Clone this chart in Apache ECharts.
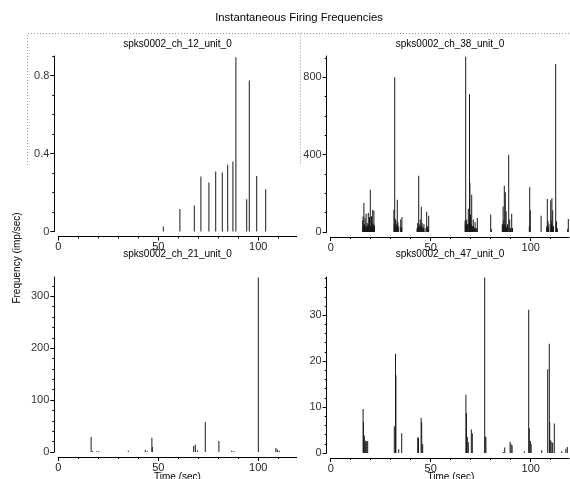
<!DOCTYPE html>
<html>
<head>
<meta charset="utf-8">
<script src="https://cdn.jsdelivr.net/npm/echarts@6/dist/echarts.min.js"></script>
<style>
html,body{margin:0;padding:0;background:#fff;}
#chart{width:570px;height:479px;}
</style>
</head>
<body>
<div id="chart"></div>
<script>
// ---- data (time in sec, frequency in imp/sec) ----
const titles = ["spks0002_ch_12_unit_0", "spks0002_ch_38_unit_0", "spks0002_ch_21_unit_0", "spks0002_ch_47_unit_0"];

const ch12Time = [52.5, 60.8, 68.0, 71.3, 75.3, 78.7, 82.0, 84.7, 87.3, 88.8, 94.2, 95.5, 99.2, 103.7];
const ch12Freq = [0.026, 0.116, 0.133, 0.282, 0.251, 0.308, 0.303, 0.342, 0.359, 0.894, 0.166, 0.774, 0.284, 0.217];

// ch38: prominent spikes
const ch38Time = [16.0, 16.2, 16.6, 16.9, 17.2, 17.5, 17.7, 18.0, 18.2, 18.5, 18.8, 19.1, 19.4, 19.8, 20.1, 20.4, 20.7, 21.0, 21.3, 21.6, 21.9,
  31.6, 32.0, 32.3, 32.6, 33.0, 33.3, 33.6, 34.0, 35.0, 35.3, 35.6,
  43.2, 43.5, 44.0, 44.4, 44.8, 45.3, 45.7, 46.2, 46.6, 47.2, 48.0, 48.4, 49.0,
  67.2, 67.5, 68.0, 68.4, 68.8, 69.4, 69.6, 69.9, 70.2, 70.5, 70.9, 71.3, 71.7, 72.2, 72.7, 73.3,
  80.0, 80.3,
  85.8, 86.2, 86.5, 86.8, 87.1, 87.3, 87.7, 88.0, 88.4, 89.0, 89.5, 89.9, 90.5, 90.9,
  99.3, 99.5, 99.8, 105.2,
  108.0, 108.3, 108.7, 109.1, 110.0, 110.3, 110.6, 111.0, 111.4, 112.5, 112.9, 113.3,
  118.5, 118.8];
const ch38Freq = [60, 81, 150, 40, 72, 30, 95, 25, 46, 35, 98, 40, 77, 218, 30, 81, 45, 115, 40, 110, 35,
  115, 800, 69, 60, 40, 167, 50, 30, 64, 25, 77,
  20, 46, 291, 30, 64, 130, 46, 26, 40, 20, 105, 30, 84,
  60, 906, 64, 40, 120, 712, 253, 90, 40, 193, 30, 64, 25, 50, 20, 72,
  90, 15,
  40, 132, 60, 239, 30, 205, 107, 25, 40, 399, 64, 20, 95, 21,
  30, 232, 112, 84,
  30, 170, 55, 40, 163, 60, 175, 112, 30, 868, 55, 20,
  15, 67];
// ch38: dense low spikes at the base of each burst
const ch38LowTime = [16.1, 16.4, 16.7, 17.0, 17.35, 17.85, 18.35, 18.65, 18.95, 19.25, 19.6, 19.95, 20.25, 20.55, 20.85, 21.15, 21.45, 21.75,
  31.8, 32.15, 32.45, 32.8, 33.15, 33.45, 35.15, 35.45,
  43.35, 43.75, 44.2, 44.6, 45.0, 45.5, 45.9, 46.4, 48.2, 48.7,
  67.35, 67.65, 67.85, 68.2, 68.6, 69.1, 69.75, 70.05, 70.35, 70.7, 71.1, 71.5, 71.9, 72.5, 73.0,
  86.0, 86.35, 86.65, 87.0, 87.5, 87.9, 88.2, 89.2, 89.7, 90.7,
  108.15, 108.5, 108.9, 110.15, 110.45, 110.8, 111.2, 112.7, 113.1];
const ch38LowFreq = [20, 35, 25, 30, 20, 25, 30, 20, 25, 35, 30, 25, 20, 30, 25, 20, 30, 25,
  40, 35, 30, 25, 30, 20, 20, 25,
  20, 25, 40, 30, 25, 30, 20, 15, 25, 20,
  40, 50, 35, 30, 40, 45, 40, 30, 35, 25, 30, 20, 20, 15, 20,
  30, 40, 35, 40, 30, 20, 15, 25, 15, 20,
  20, 25, 20, 30, 40, 35, 20, 25, 15];

const ch21Time = [16.4, 17.0, 19.2, 20.2, 35.0, 43.5, 44.5, 46.8, 47.0, 67.7, 68.5, 69.5, 73.5, 80.3, 86.7, 87.8, 100.0, 108.8, 109.5, 110.5];
const ch21Freq = [29, 2, 1.3, 1.3, 2.6, 3.8, 1.5, 27.6, 9.6, 11.5, 14, 3.2, 57.7, 21, 2.6, 2, 336, 7.7, 5, 2.6];

const ch47Time = [16.2, 16.4, 16.8, 17.2, 17.5, 18.0, 18.5,
  31.8, 32.4, 32.6, 34.0, 35.5,
  43.5, 43.9, 45.2, 45.5, 46.0,
  67.6, 67.9, 68.3, 68.8, 70.3, 70.8,
  77.0, 77.2, 77.6,
  86.3, 87.0, 89.7, 90.2, 90.7, 96.8,
  99.0, 99.3, 99.8, 100.2, 105.5,
  108.5, 109.3, 109.5, 110.0, 110.6, 111.0, 111.8,
  115.5, 117.6, 118.3];
const ch47Freq = [9.6, 6.7, 3.8, 2.8, 2.4, 2.6, 2.6,
  5.8, 21.6, 16.9, 0.8, 4.3,
  3.4, 3.3, 7.6, 6.7, 1.9,
  12.7, 8.7, 3.5, 2.4, 5.1, 4.3,
  38.2, 3.6, 3.5,
  0.2, 1.2, 2.4, 1.9, 1.7, 0.3,
  31.2, 5.4, 2.6, 2.0, 0.6,
  18.2, 23.8, 6.7, 2.8, 2.4, 2.2, 6.4,
  0.4, 0.9, 1.3];

// ---- tick labels ----
const xMajorTicks = [0, 50, 100];
const xMinorTicks = [10, 20, 30, 40, 60, 70, 80, 90, 110];
const yMajorTicks = [[0, 0.4, 0.8], [0, 400, 800], [0, 100, 200, 300], [0, 10, 20, 30]];
const yMinorTicks = [
  [0.1, 0.2, 0.3, 0.5, 0.6, 0.7, 0.9],
  [100, 200, 300, 500, 600, 700, 900],
  [20, 40, 60, 80, 120, 140, 160, 180, 220, 240, 260, 280, 320],
  [2, 4, 6, 8, 12, 14, 16, 18, 22, 24, 26, 28, 32, 34, 36, 38]
];
const yMax = [0.9, 910, 337, 38.3];
const xMax = 119.2;

const seriesTimes = [ch12Time, ch38Time.concat(ch38LowTime), ch21Time, ch47Time];
const seriesFreqs = [ch12Freq, ch38Freq.concat(ch38LowFreq), ch21Freq, ch47Freq];

// ---- layout ----
const FONT = "'Liberation Sans', Arial, sans-serif";
const grids = [
  {left: 58.3, top: 56, width: 238.4, height: 175.5},
  {left: 330.7, top: 56, width: 238.4, height: 176},
  {left: 58.3, top: 277, width: 238.4, height: 175},
  {left: 330.7, top: 277, width: 238.4, height: 176}
];

const xAxes = [], yAxes = [], series = [];
grids.forEach((g, i) => {
  const base = {type: 'value', gridIndex: i, splitLine: {show: false}};
  xAxes.push(Object.assign({}, base, {
    position: 'bottom', offset: 5, min: 0, max: xMax,
    axisLine: {show: true, onZero: false, lineStyle: {color: '#000', width: 1}},
    axisTick: {show: true, length: 4, customValues: xMajorTicks, lineStyle: {color: '#000'}},
    axisLabel: {show: true, customValues: xMajorTicks, fontSize: 11, margin: 5, color: '#222', fontFamily: FONT}
  }));
  xAxes.push(Object.assign({}, base, {
    position: 'bottom', offset: 5, min: 0, max: xMax,
    axisLine: {show: false, onZero: false},
    axisTick: {show: true, length: 2, customValues: xMinorTicks, lineStyle: {color: '#000'}},
    axisLabel: {show: false}
  }));
  yAxes.push(Object.assign({}, base, {
    position: 'left', offset: 4, min: 0, max: yMax[i],
    axisLine: {show: true, onZero: false, lineStyle: {color: '#000', width: 1}},
    axisTick: {show: true, length: 4, customValues: yMajorTicks[i], lineStyle: {color: '#000'}},
    axisLabel: {show: true, customValues: yMajorTicks[i], fontSize: 11, margin: 5, color: '#333', fontFamily: FONT}
  }));
  yAxes.push(Object.assign({}, base, {
    position: 'left', offset: 4, min: 0, max: yMax[i],
    axisLine: {show: false, onZero: false},
    axisTick: {show: true, length: 2, customValues: yMinorTicks[i], lineStyle: {color: '#000'}},
    axisLabel: {show: false}
  }));
  series.push({
    type: 'bar', xAxisIndex: 2 * i, yAxisIndex: 2 * i,
    barWidth: 1, itemStyle: {color: '#1a1a1a'},
    data: seriesTimes[i].map((t, k) => [t, seriesFreqs[i][k]]),
    silent: true, animation: false
  });
});

const txt = (x, y, text, size, extra) => Object.assign({
  type: 'text', x: x, y: y, silent: true,
  style: {text: text, fill: '#000', font: size + 'px ' + FONT, textAlign: 'center', textVerticalAlign: 'middle'}
}, extra || {});

const graphics = [
  {type: 'polyline', silent: true, shape: {points: [[27.5, 165], [27.5, 33.5], [570, 33.5]]},
    style: {stroke: '#999', lineWidth: 1, lineDash: [1, 2], fill: null}},
  {type: 'line', silent: true, shape: {x1: 300.5, y1: 33.5, x2: 300.5, y2: 165},
    style: {stroke: '#999', lineWidth: 1, lineDash: [1, 2]}},
  txt(299, 18, 'Instantaneous Firing Frequencies', 11.3),
  txt(177.5, 44.5, titles[0], 10),
  txt(450, 44.5, titles[1], 10),
  txt(177.5, 254, titles[2], 10),
  txt(450, 254, titles[3], 10),
  txt(177.5, 477.5, 'Time (sec)', 10),
  txt(451, 477.5, 'Time (sec)', 10),
  txt(17, 258, 'Frequency (imp/sec)', 10, {rotation: Math.PI / 2})
];

const chart = echarts.init(document.getElementById('chart'), null, {renderer: 'canvas'});
chart.setOption({
  animation: false,
  backgroundColor: '#fff',
  grid: grids,
  xAxis: xAxes,
  yAxis: yAxes,
  series: series,
  graphic: graphics
});
</script>
</body>
</html>
